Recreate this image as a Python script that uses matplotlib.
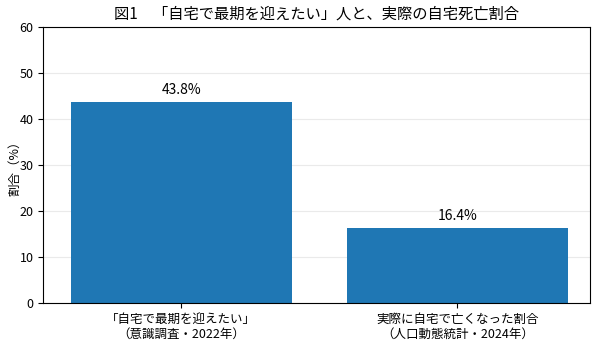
import matplotlib
matplotlib.use('Agg')
import matplotlib.pyplot as plt

plt.rcParams['font.family'] = ['Noto Sans CJK JP', 'DejaVu Sans']

categories = ['「自宅で最期を迎えたい」\n（意識調査・2022年）',
              '実際に自宅で亡くなった割合\n（人口動態統計・2024年）']
values = [43.8, 16.4]

fig, ax = plt.subplots(figsize=(6, 3.46), dpi=100)
fig.subplots_adjust(left=0.072, right=0.983, top=0.922, bottom=0.124)

x = range(len(values))
ax.bar(x, values, width=0.8, color='#1f77b4', zorder=2)
for i, v in enumerate(values):
    ax.text(i, v + 1.0, '%.1f%%' % v, ha='center', va='bottom', fontsize=10)

ax.set_xticks(list(x))
ax.set_xticklabels(categories, fontsize=9, linespacing=1.15)
ax.set_xlim(-0.5, 1.48)
ax.set_ylim(0, 60)
ax.set_yticks(range(0, 61, 10))
ax.tick_params(axis='y', labelsize=9)
ax.set_ylabel('割合（%）', fontsize=9, labelpad=-1)
ax.set_title('図1　「自宅で最期を迎えたい」人と、実際の自宅死亡割合', fontsize=11, pad=6)
ax.grid(axis='y', color='#dddddd', linewidth=0.8, alpha=0.6, zorder=0)

plt.savefig('out.png', dpi=100)
